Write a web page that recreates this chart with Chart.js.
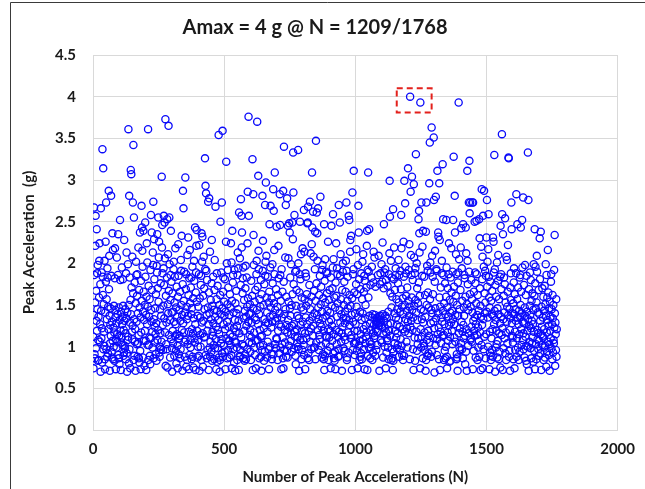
<!DOCTYPE html>
<html>
<head>
<meta charset="utf-8">
<script src="https://cdn.jsdelivr.net/npm/chart.js@4.4.1/dist/chart.umd.min.js"></script>
<style>
html, body { margin: 0; padding: 0; background: #fff; }
#marco { position: relative; width: 645px; height: 489px; }
</style>
</head>
<body>
<div id="marco"><canvas id="graficoPicos" width="645" height="489"></canvas></div>
<script>
// Aceleraciones pico, en centesimas de g, una por cada N (1..1768)
const serieA = [
112,74,138,103,186,91,86,153,221,212,98,167,131,72,119,188,145,198,83,108,
136,84,159,203,224,106,127,175,70,116,143,110,189,122,81,134,184,162,75,97,
151,118,101,203,85,73,141,226,178,110,97,157,133,88,194,183,92,148,121,80,
169,209,137,71,104,126,146,113,192,185,94,130,87,140,107,216,85,123,100,149,
117,83,182,218,135,144,73,109,128,99,207,115,106,139,186,191,90,86,147,113,
79,132,204,180,119,72,142,105,111,195,127,102,136,181,149,89,120,93,228,131,
101,98,145,116,85,188,134,213,92,70,141,108,199,112,126,150,80,190,97,183,
129,74,156,196,139,104,171,118,109,208,125,96,164,225,84,143,133,89,177,106,
121,71,152,202,186,130,103,161,187,88,140,104,219,114,86,168,81,147,112,95,
135,73,179,117,100,155,124,215,196,87,142,193,166,107,132,77,150,119,85,184];
const serieB = [
107,138,72,160,224,127,201,102,148,185,84,173,102,136,111,157,89,79,192,110,
94,144,130,71,168,118,99,213,198,152,86,133,229,181,124,105,146,115,91,163,
128,83,197,189,139,108,170,120,74,154,207,226,93,88,100,145,116,176,97,137,
106,159,219,72,188,126,96,149,194,85,174,134,112,206,117,143,77,161,103,129,
97,183,122,75,151,211,140,81,167,114,94,199,132,87,156,186,84,109,178,141,
98,70,164,119,104,142,193,202,130,89,153,184,113,218,127,95,147,80,172,115,
136,101,74,160,223,185,91,110,144,113,86,166,131,97,204,191,150,82,120,138,
71,175,205,128,103,155,117,190,106,88,141,124,108,169,187,76,148,133,84,210,
103,137,112,162,118,73,182,90,216,152,108,99,171,139,183,85,146,121,196,88,
116,158,75,134,203,179,110,105,143,127,72,165,189,221,98,154,119,87,137,100];
const serieC = [
108,148,89,187,222,71,158,114,135,100,174,185,84,142,129,202,93,116,76,161,
131,208,111,170,145,112,74,193,125,90,153,191,138,86,180,119,96,147,103,127,
72,165,196,140,99,214,88,106,156,133,94,176,228,83,149,118,113,184,128,102,
144,85,168,204,98,136,197,109,124,73,157,188,143,82,173,120,98,132,211,87,
115,150,70,84,162,217,139,104,189,109,134,92,146,117,88,166,183,127,101,154,
137,94,181,121,73,142,226,159,110,200,130,86,151,192,96,171,124,107,138,107,
87,163,115,147,102,224,90,201,74,155,135,112,177,186,97,141,122,81,192,106,
132,71,152,118,105,167,140,99,125,84,186,213,145,194,131,72,160,116,89,206,
88,96,174,138,111,149,219,127,103,164,182,86,195,134,101,156,119,83,143,91,
170,197,85,136,125,183,97,148,224,73,158,130,106,209,105,139,114,151,120,94];
const serieD = [
140,84,179,111,129,104,161,212,72,146,89,188,198,117,99,154,135,90,168,107,
74,132,187,203,144,115,108,172,127,92,215,193,139,86,157,120,101,148,112,180,
88,71,163,113,96,137,191,227,102,150,122,83,175,133,94,143,185,202,110,129,
209,159,87,141,118,106,184,128,97,153,73,166,189,136,100,195,106,147,123,91,
158,85,130,199,176,138,113,91,70,152,216,187,116,103,144,131,98,169,110,222,
109,134,148,84,162,119,221,182,127,92,140,98,173,186,99,155,124,73,193,135,
103,166,111,86,151,74,178,194,96,139,120,105,207,145,218,88,160,126,95,143,
117,87,186,132,206,154,101,171,123,72,146,183,137,107,199,115,150,94,125,82,
163,229,141,83,175,127,98,156,118,112,190,89,79,149,191,168,121,104,137,111,
100,152,200,97,134,71,165,187,142,108,181,126,211,147,85,159,119,96,218,130];
const serieE = [
108,144,102,170,90,214,157,116,73,188,135,184,149,110,163,127,111,86,196,139,
92,154,118,84,174,131,197,145,106,212,122,97,160,223,71,181,136,113,150,125,
208,99,167,140,99,193,117,85,155,88,105,176,186,138,86,203,120,74,147,133,
96,162,114,109,185,128,219,151,101,172,124,87,142,192,198,134,91,158,119,85,
146,72,179,89,205,153,113,104,190,137,111,164,188,143,95,226,121,84,156,130,
111,168,100,141,119,74,183,132,216,149,125,107,170,195,138,92,205,115,86,159,
83,94,147,73,177,120,224,161,103,194,136,187,152,112,88,97,173,118,89,144,
85,185,129,211,157,106,139,116,71,168,124,190,200,134,98,150,112,178,95,128,
142,108,166,203,135,101,191,84,87,155,184,146,117,93,180,132,78,162,126,214,
228,149,110,171,114,138,72,158,86,96,187,130,193,145,104,165,119,90,140,104];
const serieF = [
127,106,175,217,148,95,163,119,74,198,136,189,154,101,181,84,107,142,88,169,
115,92,188,132,85,157,202,140,109,211,121,97,166,185,73,179,134,104,150,125,
112,171,118,221,145,72,192,89,94,159,190,99,185,137,106,128,86,174,99,120,
103,183,196,135,84,139,116,93,177,214,126,110,207,113,138,89,172,121,130,96,
127,134,102,131,118,186,128,136,209,125,133,71,129,175,137,188,132,108,126,199,
105,124,178,225,139,87,115,170,97,131,189,100,122,193,137,74,180,117,93,134,
110,107,173,127,99,142,85,187,119,212,138,156,113,164,128,203,84,147,183,97,
160,86,72,151,83,94,181,219,140,104,168,119,186,194,135,111,157,126,98,145,
116,102,176,132,204,153,88,186,124,96,142,191,109,169,137,218,101,148,90,121,
158,84,139,226,184,89,95,150,118,73,196,133,188,161,106,143,122,171,99,130];
const serieG = [
107,155,116,192,137,223,148,85,172,124,93,210,131,186,159,100,144,120,180,97,
135,72,166,207,149,111,188,83,194,156,87,141,118,200,95,170,132,103,152,110,
126,177,106,139,213,161,74,194,121,145,99,168,112,133,185,220,86,153,129,104,
143,101,184,117,96,162,136,71,175,84,222,150,108,197,89,191,165,119,92,147,
113,173,105,134,157,201,189,128,88,144,120,94,209,140,184,163,110,130,151,98,
122,69,178,215,146,102,167,134,193,191,90,109,155,115,140,97,182,123,85,137,
159,228,72,148,118,171,104,135,188,203,130,113,164,143,99,186,114,84,152,127,
95,176,86,139,100,160,206,195,88,74,147,117,170,107,136,187,224,125,82,156,
112,141,83,183,129,218,165,119,143,103,190,133,194,154,73,172,127,111,149,115,
138,106,161,211,187,85,91,150,87,71,177,137,189,158,116,205,99,145,122,96];
const serieH = [
168,219,104,142,130,194,97,155,118,86,173,126,110,147,137,186,182,113,79,160,
132,94,212,121,71,151,139,203,175,101,144,116,225,190,89,85,163,134,108,148,
110,180,124,106,157,214,141,73,198,131,95,166,119,113,145,135,189,176,87,127,
152,196,187,114,138,84,162,123,99,143,107,207,88,109,170,117,149,72,136,220,
102,158,126,181,208,74,146,133,97,196,120,112,164,140,191,153,86,185,115,130,
142,105,172,202,135,100,217,83,184,159,73,147,118,93,178,89,84,155,110,139,
96,167,121,88,150,137,226,189,127,111,143,193,70,174,132,99,160,119,103,201,
87,146,107,179,210,139,85,157,116,94,184,128,75,150,136,187,169,114,101,144,
122,72,192,133,98,161,183,141,110,175,124,92,153,117,84,208,130,204,148,104,
166,222,138,86,182,88,95,145,120,71,171,134,188,156,106,193,128,113,140,111];
const serieI = [
105,152,85,177,194,139,74,163,118,96,145,131,188,92,88,110,157,207,135,99,
171,127,84,143,115,94,183,136,186,150,72,166,121,102,140,104,195,130,108,154,
116,97,174,128,87,147,198,137,112,162,83,101,185,79,142,119,100,158,133,213,
71,169,125,106,149,189,138,98,180,122,86,155,131,104,164,111,127,144,82,199,
118,95,161,134,73,176,196,146,103,85,153,209,190,120,109,141,116,97,168,89,
107,139,192,181,131,92,156,115,72,148,124,102,170,113,135,111,160,84,143,121,
99,173,87,101,151,199,137,76,186,117,94,159,132,216,106,165,125,90,146,103,
71,154,119,136,110,178,187,98,145,127,85,162,134,93,150,108,104,192,123,100,
140,77,129,115,96,157,88,121];

// Picos altos leidos uno a uno: [N, g]
const altosTramo1 = [[4,2.67],[10,2.57],[14,2.41],[30,2.66],[36,3.37],[39,3.14],[50,2.73],[60,2.87],[69,2.81],[74,2.36],
  [96,2.35],[103,2.52],[135,3.61],[138,2.81],[144,3.12],[146,3.07],[152,2.73],[154,3.42],[156,2.55],[179,2.37],
  [185,2.69],[187,2.43],[192,2.39],[199,2.49],[210,3.61],[221,2.58],[224,2.37],[230,2.74],[245,2.35],[249,2.55],
  [262,3.04],[264,2.46],[270,2.57],[273,2.49],[276,3.73],[283,2.53],[288,3.65],[291,2.55],[297,2.39],[338,2.33],
  [343,2.87],[345,2.66],[352,3.03],[363,2.31],[389,2.43],[395,2.40],[414,2.36],[417,2.32],[427,3.26],[429,2.93],
  [431,2.84],[439,2.74],[443,2.78],[467,2.68],[479,3.54],[486,2.50],[491,2.73],[494,3.59],[508,3.22],[531,2.39],
  [557,2.61],[564,2.77],[566,2.57],[568,2.37],[590,2.86],[593,3.76],[594,2.57],[608,3.25],[611,2.83],[612,2.34],
  [626,3.70],[630,3.05],[646,2.81],[656,2.70],[659,2.97],[673,2.47],[677,2.69],[687,2.89],[689,2.63],[693,3.09],[700,2.44]];
const altosTramo2 = [[712,2.83],[713,2.46],[725,2.87],[728,3.40],[735,2.70],[740,2.78],[743,2.45],[748,2.48],[750,2.37],[760,2.49],
  [763,3.33],[764,2.85],[768,2.58],[782,3.36],[789,2.50],[804,2.64],[817,2.48],[819,2.49],[820,2.68],[827,2.74],
  [835,3.09],[836,2.43],[839,2.62],[847,2.38],[850,3.47],[853,2.61],[855,2.36],[858,2.66],[867,2.80],[881,2.47],
  [909,2.45],[915,2.59],[937,2.70],[941,2.49],[966,2.73],[975,2.57],[977,2.52],[984,2.33],[989,2.85],[994,3.11],
  [1012,2.69],[1013,2.37],[1045,2.39],[1049,3.09],[1053,2.41],[1109,2.47],[1131,2.99],[1132,2.56],[1144,2.65],[1175,2.58],
  [1187,2.99],[1190,2.72],[1201,3.14],[1209,4.00],[1211,2.86],[1216,3.04],[1223,2.95],[1231,3.31],[1241,2.53],[1243,2.63],
  [1244,2.36],[1248,3.93],[1252,2.73],[1258,2.39],[1269,2.38],[1271,2.73],[1282,2.96],[1284,3.45],[1291,3.63],[1299,3.51],
  [1300,2.76],[1307,2.80],[1313,3.11],[1316,2.37],[1317,2.32],[1320,2.96],[1333,3.19],[1335,2.53],[1347,2.52],[1373,2.52],
  [1375,3.28],[1379,2.81],[1380,2.37],[1394,3.93],[1404,2.42],[1411,2.47],[1421,2.43],[1427,3.11],[1433,2.73],[1435,3.23]];
const altosTramo3 = [[1436,2.60],[1438,2.73],[1446,2.73],[1449,2.73],[1455,2.50],[1462,2.51],[1472,2.53],[1474,2.30],[1482,2.89],[1487,2.57],
  [1491,2.87],[1500,2.31],[1502,2.76],[1508,2.59],[1525,2.31],[1530,3.30],[1554,2.45],[1559,3.55],[1560,2.59],[1563,2.35],
  [1571,2.54],[1584,3.27],[1585,3.26],[1595,2.73],[1596,2.41],[1614,2.83],[1618,2.47],[1631,2.43],[1636,2.52],[1640,2.79],
  [1658,3.33],[1660,2.76],[1684,2.41],[1703,2.30],[1707,2.38],[1760,2.34]];

// Recuadro rojo del maximo (N y g)
const cajaN = [1158, 1291];
const cajaG = [3.81, 4.10];

// Ticks de los ejes
const ejeX = { min: 0, max: 2000, paso: 500 };
const ejeY = { min: 0, max: 4.5, paso: 0.5 };

// ----------- ARMAR PUNTOS ----------
const centesimas = [].concat(serieA, serieB, serieC, serieD, serieE, serieF, serieG, serieH, serieI);
const puntos = centesimas.map((v, i) => ({ x: i + 1, y: v / 100 }));
[].concat(altosTramo1, altosTramo2, altosTramo3).forEach(p => {
    puntos[p[0] - 1] = { x: p[0], y: p[1] };
});

const fuente = "Lato, 'Open Sans', sans-serif";
const negro = "#1a1a1a";
const gris = "#d9d9d9";

// recuadro punteado + marco de la figura
const extras = {
    id: "extras",
    afterDatasetsDraw(chart) {
        const { ctx, scales: { x, y } } = chart;
        const x0 = x.getPixelForValue(cajaN[0]);
        const x1 = x.getPixelForValue(cajaN[1]);
        const y0 = y.getPixelForValue(cajaG[1]);
        const y1 = y.getPixelForValue(cajaG[0]);
        ctx.save();
        ctx.strokeStyle = "#e3211c";
        ctx.lineWidth = 2;
        ctx.setLineDash([6, 4]);
        ctx.strokeRect(x0, y0, x1 - x0, y1 - y0);
        ctx.restore();
    },
    beforeDraw(chart) {
        const ctx = chart.ctx;
        ctx.save();
        ctx.strokeStyle = "#3a3a3a";
        ctx.lineWidth = 1;
        ctx.beginPath();
        ctx.moveTo(10.5, 489);
        ctx.lineTo(10.5, 2.5);
        ctx.lineTo(645, 2.5);
        ctx.stroke();
        ctx.restore();
    }
};

// ----------- GRAFICO (Dispersion) ----------
new Chart(document.getElementById("graficoPicos"), {
    type: "scatter",
    data: {
        datasets: [{
            label: "Peak Acceleration",
            data: puntos,
            pointStyle: "circle",
            pointRadius: 3.6,
            pointHoverRadius: 3.6,
            pointBorderWidth: 1.3,
            borderColor: "rgb(10,10,250)",
            backgroundColor: "rgba(0,0,0,0)"
        }]
    },
    options: {
        responsive: false,
        animation: false,
        devicePixelRatio: 1,
        events: [],
        layout: { padding: { left: 12, right: 27, top: 4, bottom: 0 } },
        plugins: {
            legend: { display: false },
            tooltip: { enabled: false },
            title: {
                display: true,
                text: "Amax = 4 g @ N = 1209/1768",
                color: negro,
                font: { family: fuente, size: 20, weight: "bold" },
                padding: { top: 12, bottom: 15 }
            }
        },
        scales: {
            x: {
                type: "linear",
                min: ejeX.min,
                max: ejeX.max,
                afterFit: s => { s.height = 59; },
                ticks: {
                    stepSize: ejeX.paso, color: negro, padding: 10,
                    font: { family: fuente, size: 15, weight: "bold" },
                    callback: v => String(v)
                },
                grid: { color: gris, drawTicks: false },
                border: { color: gris },
                title: {
                    display: true,
                    text: "Number of Peak Accelerations (N)",
                    color: negro,
                    font: { family: fuente, size: 15, weight: "bold" },
                    padding: { top: 0, bottom: 3 }
                }
            },
            y: {
                min: ejeY.min,
                max: ejeY.max,
                afterFit: s => { s.width = 81; },
                ticks: {
                    stepSize: ejeY.paso, color: negro, padding: 17,
                    font: { family: fuente, size: 15, weight: "bold" },
                    callback: v => String(v)
                },
                grid: { color: gris, drawTicks: false },
                border: { color: gris },
                title: {
                    display: true,
                    text: "Peak Acceleration  (g)",
                    color: negro,
                    font: { family: fuente, size: 15, weight: "bold" },
                    padding: { top: 8, bottom: 0 }
                }
            }
        }
    },
    plugins: [extras]
});
</script>
</body>
</html>
